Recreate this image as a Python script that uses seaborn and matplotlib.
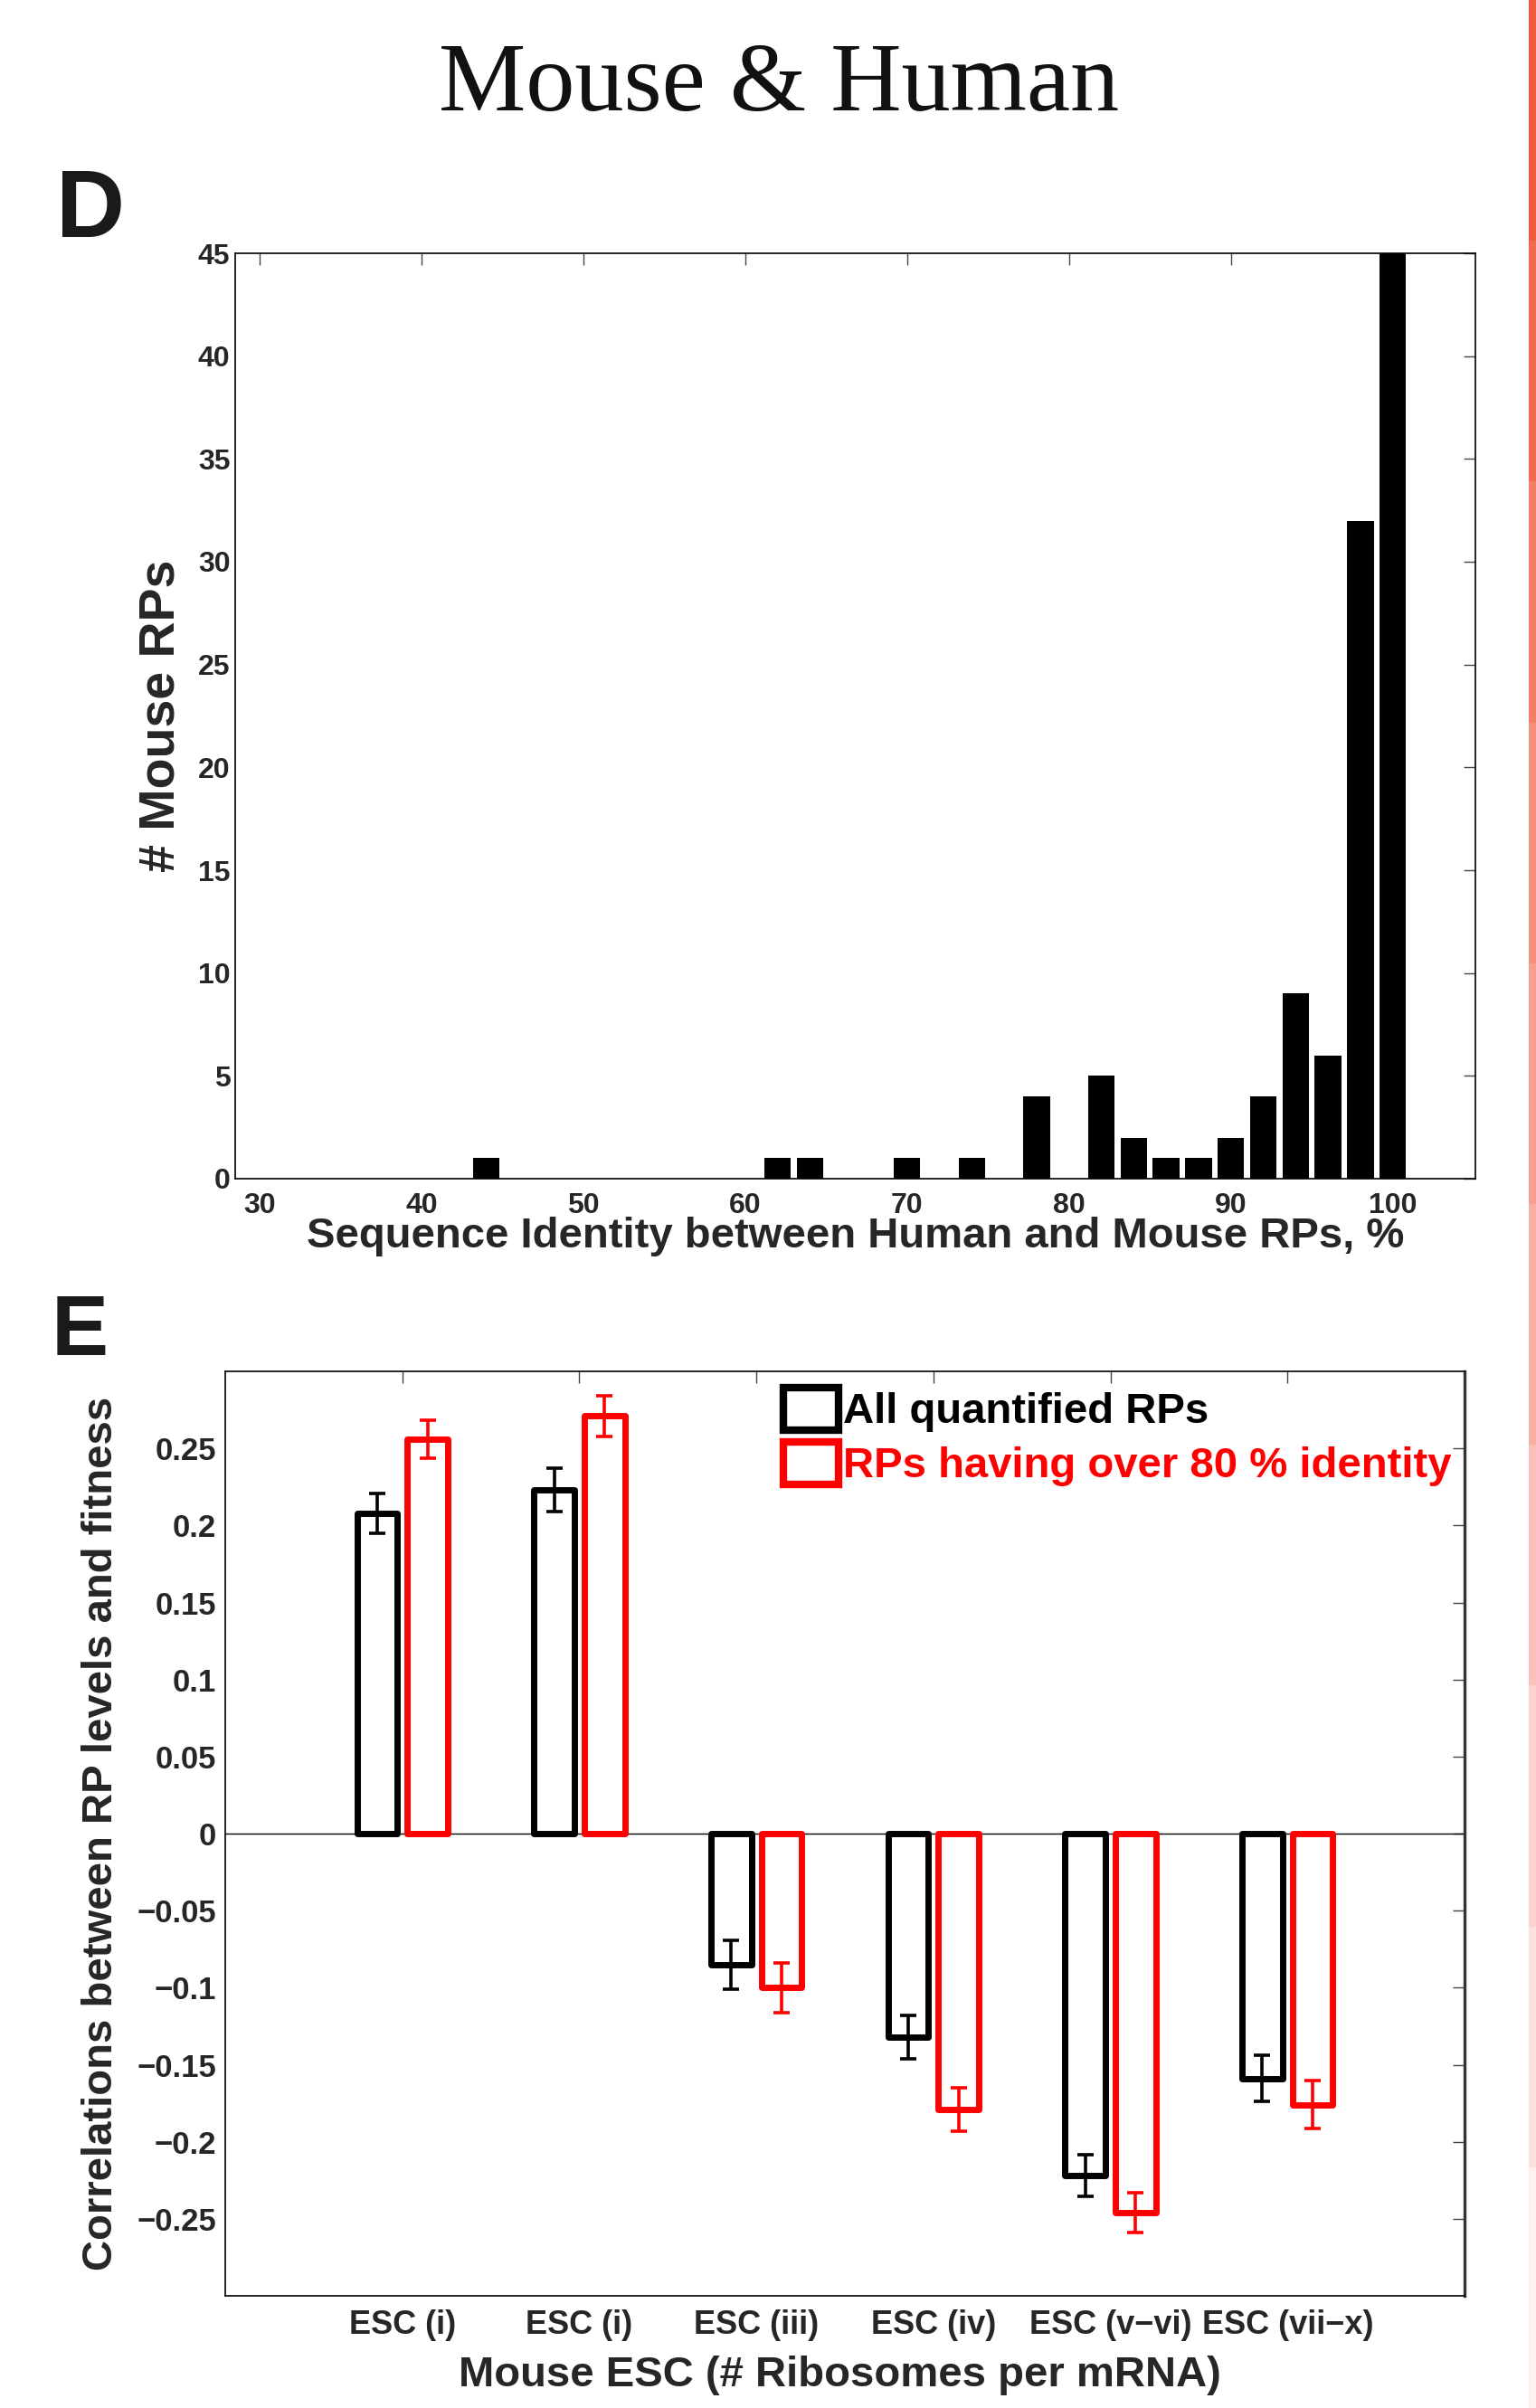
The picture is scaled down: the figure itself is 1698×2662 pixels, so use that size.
import numpy as np
import pandas as pd
import matplotlib
matplotlib.use("Agg")
import matplotlib.pyplot as plt
import seaborn as sns
from matplotlib.patches import Rectangle, Patch
from matplotlib.ticker import FuncFormatter

# ---------------- data ----------------
identity_bins = [44, 62, 64, 70, 74, 78, 82, 84, 86, 88, 90, 92, 94, 96, 98, 100]
rp_counts = [1, 1, 1, 1, 1, 4, 5, 2, 1, 1, 2, 4, 9, 6, 32, 45]
hist_xticks = [30, 40, 50, 60, 70, 80, 90, 100]
hist_yticks = [0, 5, 10, 15, 20, 25, 30, 35, 40, 45]

esc_keys = ["g1", "g2", "g3", "g4", "g5", "g6"]
esc_labels = ["ESC (i)", "ESC (i)", "ESC (iii)", "ESC (iv)", "ESC (v\u2212vi)", "ESC (vii\u2212x)"]
series_names = ["All quantified RPs", "RPs having over 80 % identity"]
series_colors = ["#000000", "#ff0000"]
corr_all = [0.208, 0.223, -0.085, -0.132, -0.222, -0.159]
corr_all_err = [0.013, 0.014, 0.016, 0.014, 0.0135, 0.015]
corr_80 = [0.256, 0.271, -0.100, -0.179, -0.246, -0.176]
corr_80_err = [0.0125, 0.013, 0.016, 0.014, 0.013, 0.0155]
corr_yticks = [-0.25, -0.2, -0.15, -0.1, -0.05, 0, 0.05, 0.1, 0.15, 0.2, 0.25]

# ---------------- style ----------------
sns.set_style("white")
plt.rcParams["font.family"] = ["Liberation Sans", "DejaVu Sans"]
plt.rcParams["font.weight"] = "bold"
plt.rcParams["axes.labelweight"] = "bold"
plt.rcParams["axes.edgecolor"] = "black"
plt.rcParams["axes.linewidth"] = 1.2

W, H = 1699, 2662
fig = plt.figure(figsize=(W / 100, H / 100), dpi=100)
fig.patch.set_facecolor("white")


def frac_axes(x0, y0, x1, y1):
    return fig.add_axes([x0 / W, 1 - y1 / H, (x1 - x0) / W, (y1 - y0) / H])


# ---------------- panel D ----------------
ax1 = frac_axes(260, 280, 1631, 1303)
sns.barplot(x=identity_bins, y=rp_counts, native_scale=True, color="black",
            saturation=1, width=0.82, linewidth=0, ax=ax1)
ax1.set_xlim(28.5, 105.1)
ax1.set_ylim(0, 45)
ax1.set_xticks(hist_xticks)
ax1.set_xticklabels([str(t) for t in hist_xticks])
ax1.set_yticks(hist_yticks)
ax1.set_yticklabels([str(t) for t in hist_yticks])
ax1.tick_params(axis="both", which="both", direction="in", top=True, right=True,
                length=9.5, width=1.0, color="#444444")
ax1.tick_params(axis="x", labelsize=23, pad=11)
ax1.tick_params(axis="y", labelsize=23, pad=4)
ax1.set_xlabel("Sequence Identity between Human and Mouse RPs, %", fontsize=34,
               fontweight="bold", va="center")
ax1.xaxis.set_label_coords(0.5, -0.0625)
ax1.set_ylabel("# Mouse RPs", fontsize=40, fontweight="bold", va="center")
ax1.yaxis.set_label_coords(-0.0598, 0.5)
for s in ax1.spines.values():
    s.set_visible(True)
    s.set_linewidth(1.2)

# ---------------- panel E ----------------
ax2 = frac_axes(249, 1516, 1619, 2538)
rows = []
for k, v in zip(esc_keys, corr_all):
    rows.append({"cat": k, "series": series_names[0], "value": v})
for k, v in zip(esc_keys, corr_80):
    rows.append({"cat": k, "series": series_names[1], "value": v})
df = pd.DataFrame(rows)

ax2.axhline(0, color="black", linewidth=1.0, zorder=1)
sns.barplot(data=df, x="cat", y="value", hue="series", order=esc_keys,
            hue_order=series_names, palette=dict(zip(series_names, series_colors)),
            fill=False, saturation=1, width=0.57, gap=0.2, linewidth=5.0,
            errorbar=None, legend=False, ax=ax2)

errs = [corr_all_err, corr_80_err]
vals = [corr_all, corr_80]
for ci, cont in enumerate(ax2.containers[:2]):
    for j, patch in enumerate(cont.patches):
        patch.set_joinstyle("round")
        patch.set_zorder(3)
        xc = patch.get_x() + patch.get_width() / 2
        ax2.errorbar(xc, vals[ci][j], yerr=errs[ci][j], fmt="none",
                     ecolor=series_colors[ci], elinewidth=2.6, capsize=6.5,
                     capthick=2.6, zorder=4)

ax2.set_xlim(-1, 6)
ax2.set_ylim(-0.3, 0.3)
ax2.set_xticks(range(len(esc_keys)))
ax2.set_xticklabels(esc_labels)
ax2.set_yticks(corr_yticks)
ax2.yaxis.set_major_formatter(FuncFormatter(lambda v, _: f"{v:g}".replace("-", "\u2212")))
ax2.tick_params(axis="both", which="both", direction="in", top=True, right=True,
                length=9.5, width=1.0, color="#444444")
ax2.tick_params(axis="x", labelsize=26, pad=11)
ax2.tick_params(axis="y", labelsize=25, pad=7)
ax2.set_xlabel("Mouse ESC (# Ribosomes per mRNA)", fontsize=34, fontweight="bold",
               va="center")
ax2.xaxis.set_label_coords(0.4956, -0.086)
ax2.set_ylabel("Correlations between RP levels and fitness", fontsize=34,
               fontweight="bold", va="center")
ax2.yaxis.set_label_coords(-0.1, 0.5)
for s in ax2.spines.values():
    s.set_visible(True)
    s.set_linewidth(1.2)
ax2.spines["right"].set_linewidth(2.4)
ax2.spines["right"].set_color("#333333")

handles = [Patch(facecolor="none", edgecolor=c, linewidth=6) for c in series_colors]
leg = ax2.legend(handles, series_names, loc="upper left",
                 bbox_to_anchor=((866 - 249) / 1370, (2538 - 1534) / 1022),
                 frameon=False, handlelength=1.3, handleheight=1.15,
                 handletextpad=0.1, labelspacing=0.22, borderaxespad=0, borderpad=0,
                 labelcolor=series_colors, prop={"weight": "bold", "size": 34})

# ---------------- titles & panel letters ----------------
fig.text(861 / W, 1 - 122 / H, "Mouse & Human", ha="center", va="baseline",
         fontsize=78, fontfamily=["Liberation Serif", "DejaVu Serif"], fontweight="normal",
         color="#111111")
fig.text(100 / W, 1 - 235 / H, "D", ha="center", va="center", fontsize=76,
         fontweight="bold", color="#1a1a1a")
fig.text(88 / W, 1 - 1473 / H, "E", ha="center", va="center", fontsize=68,
         fontweight="bold", color="#1a1a1a")

# ---------------- decorative right-edge strip ----------------
strip_colors = ["#F15A3B", "#F26B50", "#F37D65", "#F58E7B", "#F69F90",
                "#F8B0A5", "#F9C1BA", "#FBD2CE", "#FCE2DF", "#FDF0EF"]
n = len(strip_colors)
for i, c in enumerate(strip_colors):
    fig.add_artist(Rectangle((1690 / W, 1 - (i + 1) / n), 1 - 1690 / W, 1 / n,
                             transform=fig.transFigure, facecolor=c, edgecolor="none"))

fig.savefig("out.png", dpi=100, facecolor="white")
